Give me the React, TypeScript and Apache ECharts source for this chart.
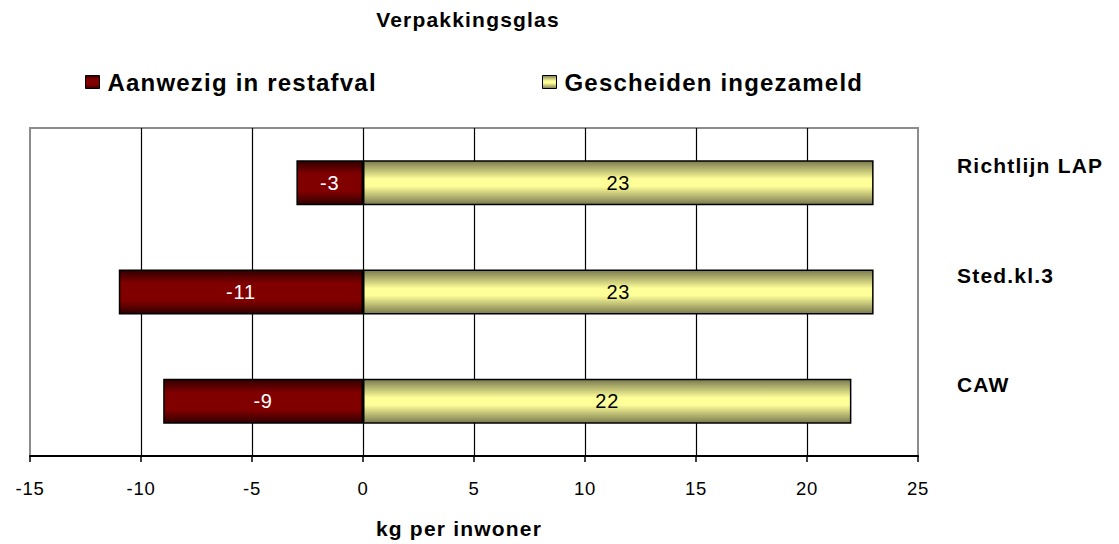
import React, { useEffect, useRef } from "react";
import * as echarts from "echarts";

const categories = ["Richtlijn LAP", "Sted.kl.3", "CAW"];
const restafval = [-3, -11, -9];
const gescheiden = [23, 23, 22];
const seriesNames = ["Aanwezig in restafval", "Gescheiden ingezameld"];
const xMin = -15;
const xMax = 25;
const xStep = 5;

const FONT = '"Liberation Sans", Arial, sans-serif';

const redGradient = {
  type: "linear",
  x: 0,
  y: 0,
  x2: 0,
  y2: 1,
  colorStops: [
    { offset: 0, color: "#300000" },
    { offset: 0.3, color: "#800000" },
    { offset: 0.7, color: "#800000" },
    { offset: 1, color: "#300000" },
  ],
};

const yellowGradient = {
  type: "linear",
  x: 0,
  y: 0,
  x2: 0,
  y2: 1,
  colorStops: [
    { offset: 0, color: "#7a7a50" },
    { offset: 0.42, color: "#ffff99" },
    { offset: 0.58, color: "#ffff99" },
    { offset: 1, color: "#7a7a50" },
  ],
};

const legendText = {
  fontFamily: FONT,
  fontWeight: "bold",
  fontSize: 24,
  color: "#000",
  padding: [0, 0, 0, 3],
};

export default function App() {
  const ref = useRef<HTMLDivElement>(null);

  useEffect(() => {
    if (!ref.current) return;
    const chart = echarts.init(ref.current, null, { renderer: "svg" });
    chart.setOption({
      animation: false,
      backgroundColor: "#ffffff",
      textStyle: { fontFamily: FONT },
      graphic: [
        {
          type: "text",
          x: 468,
          y: 19,
          style: {
            text: "Verpakkingsglas",
            font: `bold 21px ${FONT}`,
            fill: "#000",
            textAlign: "center",
            textVerticalAlign: "middle",
          },
        },
      ],
      legend: [
        {
          data: [seriesNames[0]],
          left: 85,
          top: 70,
          padding: 0,
          icon: "rect",
          itemWidth: 14,
          itemHeight: 13,
          itemStyle: { borderColor: "#000", borderWidth: 1 },
          textStyle: legendText,
        },
        {
          data: [seriesNames[1]],
          left: 542,
          top: 70,
          padding: 0,
          icon: "rect",
          itemWidth: 14,
          itemHeight: 13,
          itemStyle: { borderColor: "#000", borderWidth: 1 },
          textStyle: legendText,
        },
      ],
      grid: {
        left: 30,
        right: 201,
        top: 128,
        bottom: 86,
        show: true,
        backgroundColor: "#ffffff",
        borderColor: "#8c8c8c",
        borderWidth: 2,
      },
      xAxis: {
        type: "value",
        min: xMin,
        max: xMax,
        interval: xStep,
        name: "kg per inwoner",
        nameLocation: "middle",
        nameGap: 62,
        nameTextStyle: {
          fontFamily: FONT,
          fontWeight: "bold",
          fontSize: 21,
          color: "#000",
          padding: [0, 30, 0, 0],
        },
        axisLine: { show: true, onZero: false, lineStyle: { color: "#000", width: 2 } },
        axisTick: { show: true, length: 6, lineStyle: { color: "#000", width: 1.5 } },
        axisLabel: {
          fontFamily: FONT,
          fontSize: 18.5,
          color: "#000",
          margin: 23,
        },
        splitLine: {
          show: true,
          showMinLine: false,
          showMaxLine: false,
          lineStyle: { color: "#000", width: 1.2 },
        },
      },
      yAxis: {
        type: "category",
        data: categories,
        inverse: true,
        position: "right",
        axisLine: { show: false },
        axisTick: { show: false },
        splitLine: { show: false },
        axisLabel: {
          fontFamily: FONT,
          fontWeight: "bold",
          fontSize: 21,
          color: "#000",
          margin: 39,
          align: "left",
          verticalAlign: "bottom",
          lineHeight: 34,
        },
      },
      series: [
        {
          name: seriesNames[0],
          type: "bar",
          stack: "total",
          barWidth: 45,
          data: restafval,
          itemStyle: { color: redGradient, borderColor: "#000", borderWidth: 1.5 },
          label: {
            show: true,
            position: "inside",
            color: "#fff",
            fontFamily: FONT,
            fontSize: 20,
          },
        },
        {
          name: seriesNames[1],
          type: "bar",
          stack: "total",
          barWidth: 45,
          data: gescheiden,
          itemStyle: { color: yellowGradient, borderColor: "#000", borderWidth: 1.5 },
          label: {
            show: true,
            position: "inside",
            color: "#000",
            fontFamily: FONT,
            fontSize: 20,
          },
        },
      ],
    });
    return () => chart.dispose();
  }, []);

  return (
    <>
      <style>{`
        #vg-chart text[style*="bold"] { letter-spacing: 1.2px; }
        #vg-chart text:not([style*="bold"]) { letter-spacing: 0.8px; }
      `}</style>
      <div
        id="vg-chart"
        ref={ref}
        style={{ position: "absolute", left: 0, top: 0, width: 1119, height: 544 }}
      />
    </>
  );
}
